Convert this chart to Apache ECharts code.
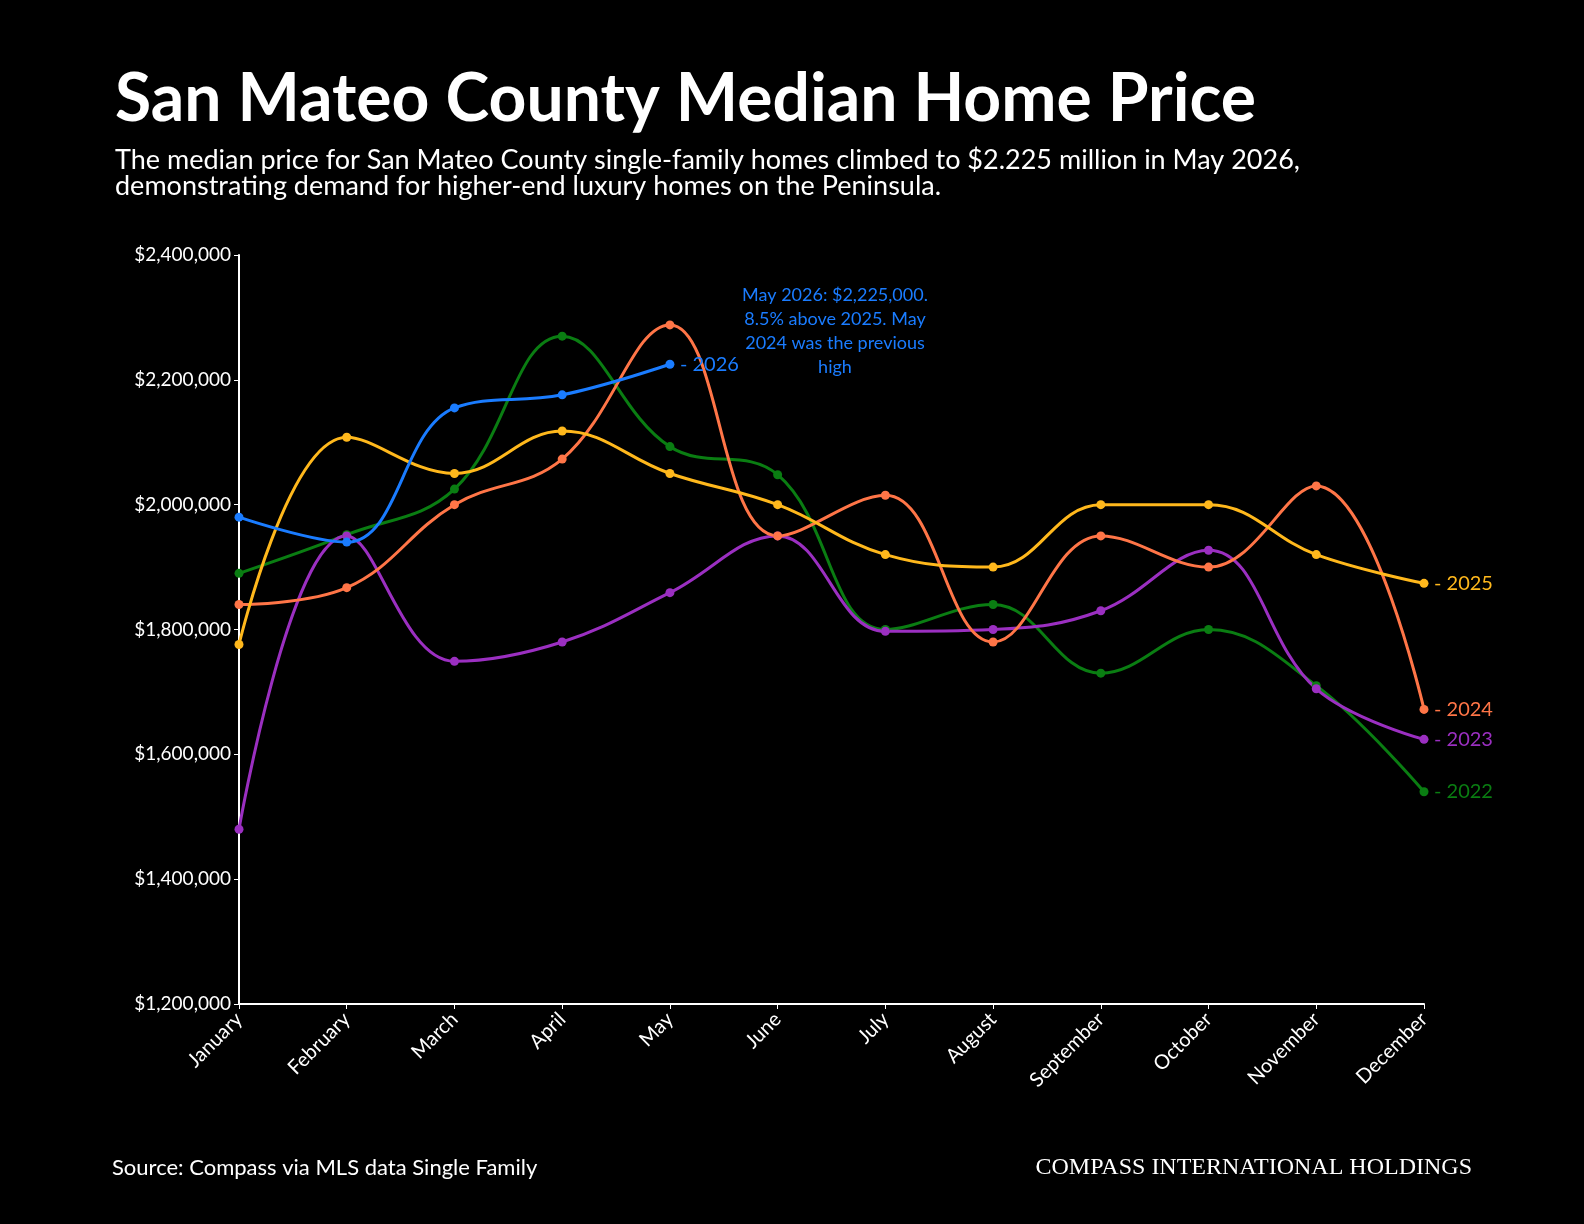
<!DOCTYPE html>
<html><head><meta charset="utf-8">
<script src="https://cdn.jsdelivr.net/npm/echarts@6/dist/echarts.min.js"></script>
<style>html,body{margin:0;background:#000}#c{width:1584px;height:1224px}</style>
</head><body><div id="c"></div>
<script>
const months=["January","February","March","April","May","June","July","August","September","October","November","December"];
const s2022=[1890000,1952000,2025000,2270000,2093000,2048000,1800000,1840000,1730000,1800000,1710000,1540000];
const s2023=[1480000,1950000,1749000,1780000,1859000,1950000,1797000,1800000,1830000,1927000,1705000,1624000];
const s2024=[1840000,1867000,2000000,2073000,2288000,1950000,2015000,1780000,1950000,1900000,2030000,1672000];
const s2025=[1776000,2108000,2050000,2118000,2050000,2000000,1920000,1900000,2000000,2000000,1920000,1874000];
const s2026=[1980000,1940000,2155000,2176000,2225000];
const F='Lato, "Noto Sans", sans-serif';
function ser(name,data,color){
  return {name,type:'line',data,smooth:0.4,symbol:'circle',symbolSize:9,
    lineStyle:{color,width:3},itemStyle:{color},
    endLabel:{show:true,formatter:'- '+name,color,fontSize:20,fontFamily:F,offset:[2,0]}};
}
const chart=echarts.init(document.getElementById('c'));
chart.setOption({
  backgroundColor:'#000',animation:false,
  title:{text:'San Mateo County Median Home Price',left:110,top:62,
    textStyle:{color:'#fff',fontSize:66,fontWeight:'bold',fontFamily:F},
    subtext:'The median price for San Mateo County single-family homes climbed to $2.225 million in May 2026,\ndemonstrating demand for higher-end luxury homes on the Peninsula.',
    itemGap:14,subtextStyle:{color:'#fff',fontSize:27,lineHeight:26,fontFamily:F}},
  grid:{left:239,right:160,top:255,bottom:220},
  xAxis:{type:'category',data:months,boundaryGap:false,
    axisLine:{lineStyle:{color:'#fff',width:2}},axisTick:{show:true,lineStyle:{color:'#fff'}},
    axisLabel:{color:'#fff',rotate:45,fontSize:20,fontFamily:F,margin:12}},
  yAxis:{type:'value',min:1200000,max:2400000,interval:200000,
    axisLine:{show:true,lineStyle:{color:'#fff',width:2}},axisTick:{show:true,lineStyle:{color:'#fff'}},
    splitLine:{show:false},
    axisLabel:{color:'#fff',fontSize:19,fontFamily:F,formatter:v=>'$'+v.toLocaleString('en-US')}},
  series:[ser('2022',s2022,'#0a7d12'),ser('2023',s2023,'#9b2fc1'),ser('2024',s2024,'#ff7547'),
    ser('2025',s2025,'#ffb81c'),ser('2026',s2026,'#1a7cff')],
  graphic:[
    {type:'text',x:835,y:283,style:{text:'May 2026: $2,225,000.\n8.5% above 2025. May\n2024 was the previous\nhigh',fill:'#1a7cff',font:'18px '+F,lineHeight:24,align:'center'}},
    {type:'text',left:112,top:1157,style:{text:'Source: Compass via MLS data Single Family',fill:'#fff',font:'22px '+F}},
    {type:'text',right:112,top:1156,style:{text:'COMPASS INTERNATIONAL HOLDINGS',fill:'#fff',font:'24px "Liberation Serif", serif',letterSpacing:3}}
  ]
});
</script></body></html>
